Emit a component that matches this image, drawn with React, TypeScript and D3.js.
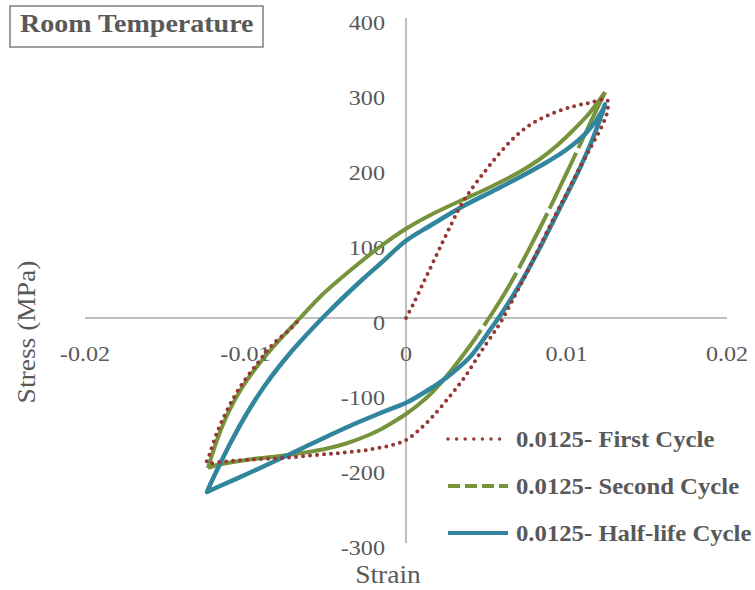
import React, { useEffect, useRef } from "react";
import * as d3 from "d3";

// axis ticks
const xTicks = [-0.02, -0.01, 0, 0.01, 0.02];
const yTicks = [-300, -200, -100, 0, 100, 200, 300, 400];

// 0.0125 - first cycle
const firstStrain = [
  0, 0.00044, 0.00106, 0.00168, 0.0023, 0.00287, 0.00336, 0.00399, 0.00461,
  0.00523, 0.00604, 0.00692, 0.00791, 0.00916, 0.0104, 0.01146, 0.01252,
  0.01255, 0.01225, 0.01165, 0.01084, 0.01003, 0.00916, 0.00835, 0.00754,
  0.00667, 0.00586, 0.00542, 0.00461, 0.00368, 0.00274, 0.00168, 0.00087,
  0.00006, -0.00081, -0.00243, -0.00411, -0.00579, -0.00785, -0.00991,
  -0.01159, -0.0124, -0.01221, -0.01178, -0.01115, -0.01034, -0.00928,
  -0.00829, -0.00723, -0.00655,
];
const firstStress = [
  0, 18, 46, 74, 102, 127, 148, 169, 187, 204, 225, 244, 260, 273, 282, 287,
  291, 276, 258, 233, 201, 167, 131, 96, 61, 25, -7, -21, -47, -78, -104, -131,
  -148, -162, -169, -176, -180, -183, -187, -189, -192, -193, -180, -153, -123,
  -92, -61, -35, -15, 0,
];

// 0.0125 - second cycle
const secondStrain = [
  -0.01234, -0.01209, -0.01171, -0.01109, -0.01022, -0.00922, -0.00804,
  -0.0066, -0.00536, -0.00411, -0.00287, -0.00162, 0, 0.0015, 0.00336, 0.00461,
  0.00567, 0.0071, 0.00835, 0.00941, 0.0104, 0.01146, 0.0124, 0.01227, 0.01165,
  0.01115, 0.0104, 0.0096, 0.00879, 0.00791, 0.0071, 0.00629, 0.00542, 0.00442,
  0.00399, 0.00336, 0.00274, 0.00212, 0.0015, 0.00069, 0, -0.00081, -0.00162,
  -0.00243, -0.00368, -0.00492, -0.00617, -0.00785, -0.00953, -0.01078,
  -0.01178, -0.01234,
];
const secondStress = [
  -200, -183, -159, -127, -93, -63, -33, 0, 28, 52, 74, 95, 119, 137, 156, 168,
  179, 195, 212, 230, 250, 274, 301, 295, 268, 245, 211, 175, 139, 102, 69, 38,
  8, -24, -37, -55, -72, -88, -102, -117, -128, -139, -149, -157, -167, -174,
  -179, -184, -188, -192, -196, -200,
];

// 0.0125 - half-life cycle
const halfStrain = [
  -0.0124, -0.01209, -0.01178, -0.01097, -0.00991, -0.00866, -0.00723, -0.00579,
  -0.00474, -0.00368, -0.00268, -0.00162, 0, 0.0015, 0.00355, 0.00567, 0.0071,
  0.00879, 0.01003, 0.01128, 0.01227, 0.0124, 0.01227, 0.01165, 0.01084, 0.0096,
  0.00835, 0.0071, 0.00586, 0.00523, 0.00461, 0.00399, 0.00255, 0.00168,
  0.00069, 0, -0.00162, -0.0033, -0.00492, -0.0066, -0.00829, -0.00991,
  -0.01159, -0.0124,
];
const halfStress = [
  -232, -217, -203, -168, -127, -86, -47, -13, 10, 32, 52, 72, 103, 123, 149,
  172, 188, 208, 225, 248, 278, 285, 276, 240, 200, 147, 94, 45, 3, -16, -35,
  -52, -79, -92, -105, -113, -127, -142, -158, -175, -192, -208, -224, -232,
];

const seriesNames = [
  "0.0125- First Cycle",
  "0.0125- Second Cycle",
  "0.0125- Half-life Cycle",
];

function App() {
  const ref = useRef<SVGSVGElement>(null);

  useEffect(() => {
    const svg = d3.select(ref.current);
    svg.selectAll("*").remove();

    const width = 755;
    const height = 590;
    const textColor = "#595959";
    const font = "'Liberation Serif', 'Times New Roman', serif";

    const x = d3.scaleLinear().domain([-0.02, 0.02]).range([85, 727]);
    const y = d3.scaleLinear().domain([-300, 400]).range([543, 18]);

    // the source text is a little wider than Times, so stretch it a bit
    const addText = (
      txt: string,
      px: number,
      py: number,
      size: number,
      anchor: string,
      sx: number,
      weight = "normal",
      rotate = 0
    ) =>
      svg
        .append("text")
        .attr(
          "transform",
          `translate(${px},${py}) rotate(${rotate}) scale(${sx},1)`
        )
        .attr("text-anchor", anchor)
        .attr("font-family", font)
        .attr("font-size", size)
        .attr("font-weight", weight)
        .attr("fill", textColor)
        .text(txt);

    svg
      .append("rect")
      .attr("width", width)
      .attr("height", height)
      .attr("fill", "white");

    // axes crossing at zero
    svg
      .append("line")
      .attr("x1", x(-0.02))
      .attr("x2", x(0.02))
      .attr("y1", y(0))
      .attr("y2", y(0))
      .attr("stroke", "#bfbfbf")
      .attr("stroke-width", 2);
    svg
      .append("line")
      .attr("x1", x(0))
      .attr("x2", x(0))
      .attr("y1", y(400))
      .attr("y2", y(-300))
      .attr("stroke", "#bfbfbf")
      .attr("stroke-width", 2);

    xTicks.forEach((t) => addText(String(t), x(t), 361, 21, "middle", 1.15));
    yTicks.forEach((t) =>
      addText(String(t), x(0) - 21, y(t) + 12, 21, "end", 1.15)
    );

    addText("Strain", 388, 583, 25, "middle", 1.1);
    addText("Stress (MPa)", 35, 332, 25, "middle", 1.1, "normal", -90);

    // title box
    svg
      .append("rect")
      .attr("x", 10)
      .attr("y", 6)
      .attr("width", 253)
      .attr("height", 41)
      .attr("fill", "white")
      .attr("stroke", "#7f7f7f")
      .attr("stroke-width", 1.5);
    addText("Room Temperature", 20, 32, 25, "start", 1.12, "bold");

    const line = d3
      .line<[number, number]>()
      .x((d) => x(d[0]))
      .y((d) => y(d[1]))
      .curve(d3.curveCatmullRom.alpha(0.5));

    const pts = (a: number[], b: number[]) =>
      d3.zip(a, b) as [number, number][];

    const drawPath = (
      data: [number, number][],
      color: string,
      w: number,
      dash: string | null,
      cap: string
    ) =>
      svg
        .append("path")
        .datum(data)
        .attr("d", line)
        .attr("fill", "none")
        .attr("stroke", color)
        .attr("stroke-width", w)
        .attr("stroke-linejoin", "round")
        .attr("stroke-linecap", cap)
        .attr("stroke-dasharray", dash);

    // second cycle: dashes only open up on the sparse unloading stretch
    const green = pts(secondStrain, secondStress);
    const peak = secondStress.indexOf(d3.max(secondStress) as number);
    drawPath(green.slice(0, peak + 1), "#77933c", 4, null, "butt");
    drawPath(green.slice(peak, peak + 12), "#77933c", 4, "62 5", "butt");
    drawPath(green.slice(peak + 11), "#77933c", 4, null, "butt");

    drawPath(pts(halfStrain, halfStress), "#31859c", 4.5, null, "round");
    drawPath(pts(firstStrain, firstStress), "#953735", 4, "0 7", "round");

    // legend
    const legend = [
      { color: "#953735", width: 3.5, dash: "0 8.6", cap: "round" },
      { color: "#77933c", width: 4, dash: "12 5", cap: "butt" },
      { color: "#31859c", width: 4, dash: null, cap: "butt" },
    ];
    legend.forEach((l, i) => {
      const ly = 439 + i * 47;
      svg
        .append("line")
        .attr("x1", 448)
        .attr("x2", 508)
        .attr("y1", ly)
        .attr("y2", ly)
        .attr("stroke", l.color)
        .attr("stroke-width", l.width)
        .attr("stroke-linecap", l.cap)
        .attr("stroke-dasharray", l.dash);
      addText(seriesNames[i], 516, ly + 8, 24, "start", 1.03, "bold");
    });
  }, []);

  return (
    <svg
      ref={ref}
      width={755}
      height={590}
      style={{ position: "absolute", left: 0, top: 0 }}
    />
  );
}

export default App;
